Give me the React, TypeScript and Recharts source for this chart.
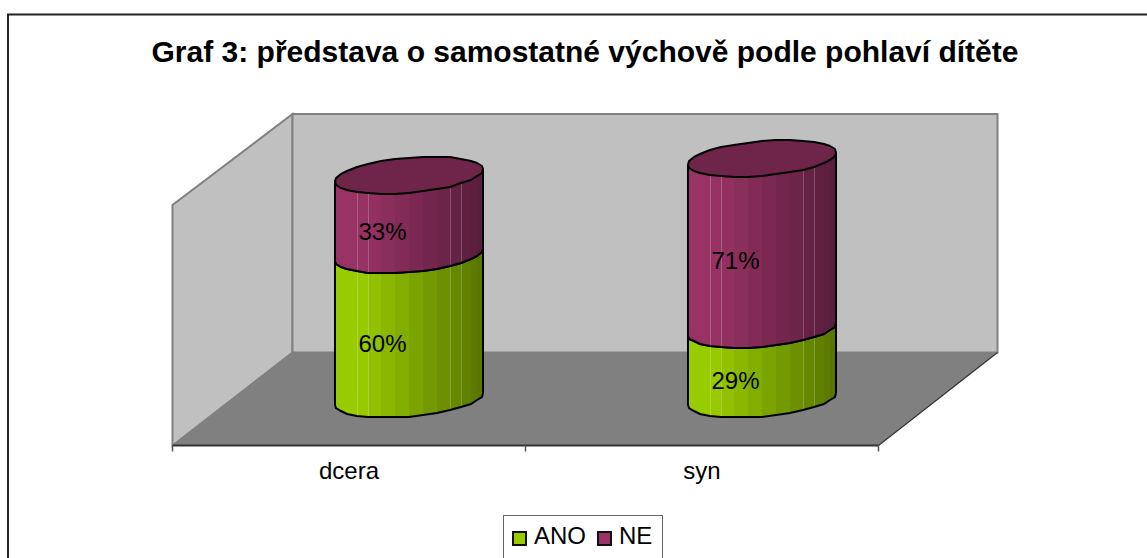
import React from 'react';
import { BarChart, Bar, XAxis, YAxis, Legend, LabelList, Customized } from 'recharts';

const categories = ['dcera', 'syn'];
const anoValues = [60, 29];
const neValues = [33, 71];

const FONT = '"Liberation Sans", Arial, sans-serif';
const WIDTH = 1147;
const HEIGHT = 558;
const LEFT = 172.5;
const RIGHT = 878.5;
const TOP = 205;
const BASE = 445.5;
// how far the back wall sits from the front plane
const DEPTH_X = 119;
const DEPTH_Y = 93;
const BAR_SIZE = 148;
const ELLIPSE_RY = 17.5;
const ELLIPSE_TILT = 6;
const FACETS = 16;
// facet edges that show as a faint light line
const SEAMS = [4, 5, 11, 12];

const chartData = categories.map((name, i) => ({ name, ANO: anoValues[i], NE: neValues[i] }));

const shade = (hex: string, k: number) => {
  const n = parseInt(hex.slice(1), 16);
  const c = [(n >> 16) & 255, (n >> 8) & 255, n & 255].map((v) => Math.round(v * k));
  return `rgb(${c[0]},${c[1]},${c[2]})`;
};

const Walls = () => {
  const backL = LEFT + DEPTH_X + 1;
  const backR = RIGHT + DEPTH_X;
  const backT = TOP - DEPTH_Y + 2;
  const backB = BASE - DEPTH_Y;
  return (
    <g>
      <rect x={8} y={14.5} width={WIDTH} height={HEIGHT} fill="#fff" stroke="#222" strokeWidth={2} />
      <text x={585} y={62} textAnchor="middle" fontFamily={FONT} fontWeight="bold" fontSize={30} fill="#000">
        Graf 3: představa o samostatné výchově podle pohlaví dítěte
      </text>
      <polygon
        points={`${LEFT},${BASE} ${LEFT},${TOP} ${backL},${backT} ${backL},${backB}`}
        fill="#c0c0c0"
        stroke="#808080"
        strokeWidth={2}
      />
      <rect x={backL} y={backT} width={backR - backL} height={backB - backT} fill="#c0c0c0" stroke="#808080" strokeWidth={2} />
      <polygon points={`${LEFT},${BASE} ${backL},${backB} ${backR},${backB} ${RIGHT},${BASE}`} fill="#808080" />
      <line x1={RIGHT} y1={BASE} x2={backR} y2={backB} stroke="#333" strokeWidth={1.2} />
    </g>
  );
};

const Cylinder = (props: any) => {
  const { x, y, width, height, fill } = props;
  const cx = x + width / 2 + DEPTH_X / 2;
  const rx = width / 2;
  const topY = y - DEPTH_Y / 2;
  const botY = y + height - DEPTH_Y / 2;
  // vertices snap to whole pixels, that gives the lumpy outline of the original
  const pt = (t: number, cy: number): [number, number] => [
    Math.round(cx + rx * Math.cos(t)),
    Math.round(cy - ELLIPSE_TILT * Math.cos(t) + ELLIPSE_RY * Math.sin(t)),
  ];
  // front half runs right to left, t = 0..PI
  const steps = Array.from({ length: FACETS + 1 }, (_, i) => (i * Math.PI) / FACETS);
  const arc = (cy: number) => steps.map((t) => pt(t, cy).join(',')).join(' ');
  const ring = Array.from({ length: FACETS * 2 }, (_, i) => pt((i * Math.PI) / FACETS, topY).join(',')).join(' ');
  return (
    <g>
      {steps.slice(1).map((t, i) => {
        const a = pt(steps[i], topY);
        const b = pt(t, topY);
        const c = pt(t, botY);
        const d = pt(steps[i], botY);
        const u = (cx + rx - (a[0] + b[0]) / 2) / width;
        return (
          <polygon
            key={i}
            points={[a, b, c, d].map((p) => p.join(',')).join(' ')}
            fill={shade(fill, 0.57 + 0.43 * Math.min(1, u * 1.2))}
          />
        );
      })}
      {SEAMS.map((s) => {
        const a = pt(steps[s], topY);
        const d = pt(steps[s], botY);
        return <line key={s} x1={a[0] + 0.5} y1={a[1]} x2={d[0] + 0.5} y2={d[1]} stroke="#fff" strokeOpacity={0.22} strokeWidth={1} />;
      })}
      <polyline points={arc(botY)} fill="none" stroke="#000" strokeWidth={2} />
      <line x1={cx + rx} y1={topY - ELLIPSE_TILT} x2={cx + rx} y2={botY - ELLIPSE_TILT} stroke="#000" strokeWidth={2} />
      <line x1={cx - rx} y1={topY + ELLIPSE_TILT} x2={cx - rx} y2={botY + ELLIPSE_TILT} stroke="#000" strokeWidth={2} />
      <polygon points={ring} fill={shade(fill, 0.72)} stroke="#000" strokeWidth={2} strokeLinejoin="round" />
    </g>
  );
};

const PercentLabel = (props: any) => {
  const { x, y, width, height, value } = props;
  return (
    <text x={x + width / 2 + 33} y={y + height / 2 - 21.5} textAnchor="middle" fontFamily={FONT} fontSize={24} fill="#000">
      {value}%
    </text>
  );
};

const CategoryTick = (props: any) => {
  const { x, y, payload, index } = props;
  const band = (RIGHT - LEFT) / categories.length;
  return (
    <g>
      <line x1={x - band / 2} y1={y} x2={x - band / 2} y2={y + 6} stroke="#555" strokeWidth={1.5} />
      {index === categories.length - 1 && (
        <line x1={x + band / 2} y1={y} x2={x + band / 2} y2={y + 6} stroke="#555" strokeWidth={1.5} />
      )}
      <text x={x} y={y + 33.5} textAnchor="middle" fontFamily={FONT} fontSize={24} fill="#000">
        {payload.value}
      </text>
    </g>
  );
};

const LegendBox = ({ payload }: any) => (
  <div
    style={{
      boxSizing: 'border-box',
      width: 160,
      height: 60,
      border: '1.5px solid #666',
      background: '#fff',
      display: 'flex',
      alignItems: 'flex-start',
      paddingTop: 6,
      paddingLeft: 8,
      fontFamily: FONT,
      fontSize: 24,
      lineHeight: '27px',
      color: '#000',
    }}
  >
    {(payload || []).map((p: any, i: number) => (
      <span key={p.value} style={{ display: 'flex', alignItems: 'center', marginLeft: i ? 11 : 0 }}>
        <span
          style={{
            boxSizing: 'border-box',
            display: 'inline-block',
            width: 15,
            height: 15,
            marginTop: 5,
            marginRight: 7,
            background: p.color,
            border: '2px solid #111',
          }}
        />
        {p.value}
      </span>
    ))}
  </div>
);

export default function App() {
  return (
    <div style={{ position: 'absolute', left: 0, top: 0, width: WIDTH, height: HEIGHT, overflow: 'hidden', background: '#fff' }}>
      <BarChart
        width={WIDTH}
        height={HEIGHT}
        data={chartData}
        margin={{ top: TOP, right: WIDTH - RIGHT, bottom: HEIGHT - BASE - 30, left: LEFT }}
      >
        <Customized component={Walls} />
        <XAxis
          dataKey="name"
          height={30}
          interval={0}
          tickLine={false}
          tickSize={0}
          tickMargin={0}
          axisLine={{ stroke: '#333', strokeWidth: 2 }}
          tick={(p: any) => <CategoryTick {...p} />}
        />
        <YAxis hide domain={[0, 100]} />
        <Legend
          layout="horizontal"
          verticalAlign="middle"
          align="center"
          content={<LegendBox />}
          wrapperStyle={{ left: 503, top: 515, bottom: 'auto', width: 160, margin: 0 }}
        />
        <Bar dataKey="ANO" name="ANO" stackId="a" fill="#99cc00" barSize={BAR_SIZE} isAnimationActive={false} shape={<Cylinder />}>
          <LabelList dataKey="ANO" content={<PercentLabel />} />
        </Bar>
        <Bar dataKey="NE" name="NE" stackId="a" fill="#993366" barSize={BAR_SIZE} isAnimationActive={false} shape={<Cylinder />}>
          <LabelList dataKey="NE" content={<PercentLabel />} />
        </Bar>
      </BarChart>
    </div>
  );
}
